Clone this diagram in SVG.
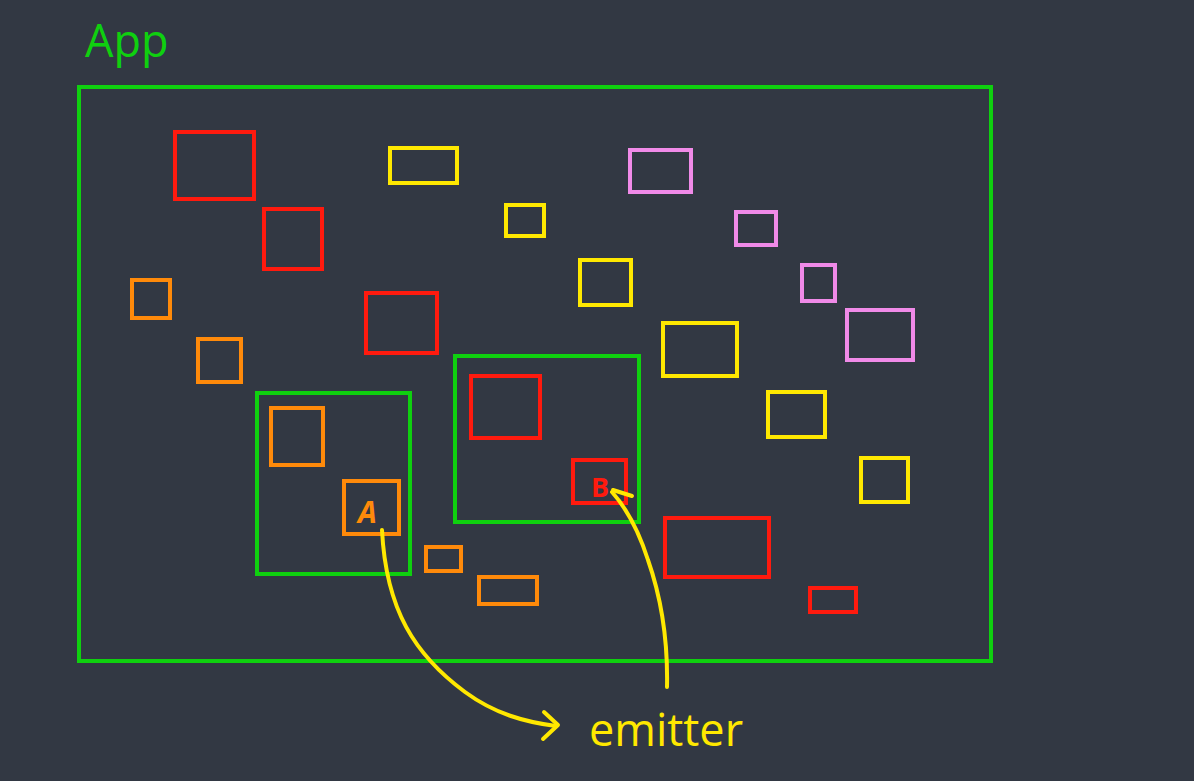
<svg xmlns="http://www.w3.org/2000/svg" width="1194" height="781" viewBox="0 0 1194 781">
<style>
  rect.b{fill:none;stroke-width:4}
  .red{stroke:#ff1a0e}
  .org{stroke:#ff8a0a}
  .yel{stroke:#ffe800}
  .pnk{stroke:#f08ae8}
  .grn{stroke:#0fd00f}
  .lbl{font-family:"Open Sans","Noto Sans",sans-serif}
  .arrow{fill:none;stroke:#ffe800;stroke-width:4;stroke-linecap:round;stroke-linejoin:round}
</style>
<rect width="1194" height="781" fill="#323843"/>
<g id="app">
  <rect class="b grn" x="79" y="87" width="912" height="574"/>
  <text class="lbl" x="85" y="57" font-size="45" fill="#0fd00f">App</text>
</g>
<g id="red-nodes">
  <rect class="b red" x="175" y="132" width="79" height="67"/>
  <rect class="b red" x="264" y="209" width="58" height="60"/>
  <rect class="b red" x="366" y="293" width="71" height="60"/>
  <rect class="b red" x="665" y="518" width="104" height="59"/>
  <rect class="b red" x="810" y="588" width="46" height="24"/>
</g>
<g id="yellow-nodes">
  <rect class="b yel" x="390" y="148" width="67" height="35"/>
  <rect class="b yel" x="506" y="205" width="38" height="31"/>
  <rect class="b yel" x="580" y="260" width="51" height="45"/>
  <rect class="b yel" x="663" y="323" width="74" height="53"/>
  <rect class="b yel" x="768" y="392" width="57" height="45"/>
  <rect class="b yel" x="861" y="458" width="47" height="44"/>
</g>
<g id="pink-nodes">
  <rect class="b pnk" x="630" y="150" width="61" height="42"/>
  <rect class="b pnk" x="736" y="212" width="40" height="33"/>
  <rect class="b pnk" x="802" y="265" width="33" height="36"/>
  <rect class="b pnk" x="847" y="310" width="66" height="50"/>
</g>
<g id="orange-nodes">
  <rect class="b org" x="132" y="280" width="38" height="38"/>
  <rect class="b org" x="198" y="339" width="43" height="43"/>
  <rect class="b org" x="426" y="547" width="35" height="24"/>
  <rect class="b org" x="479" y="577" width="58" height="27"/>
</g>
<g id="group-a">
  <rect class="b grn" x="257" y="393" width="153" height="181"/>
  <rect class="b org" x="271" y="408" width="52" height="57"/>
  <rect class="b org" x="344" y="481" width="55" height="53"/>
  <text class="lbl" x="358" y="523" font-size="30" font-weight="bold" fill="#ff8a0a" font-style="italic">A</text>
</g>
<g id="group-b">
  <rect class="b grn" x="455" y="356" width="184" height="166"/>
  <rect class="b red" x="471" y="376" width="69" height="62"/>
  <rect class="b red" x="573" y="460" width="53" height="43"/>
  <text class="lbl" x="591" y="497" font-size="27" font-weight="bold" fill="#ff1a0e">B</text>
</g>
<g id="connectors">
  <path class="arrow" d="M382,530 C386,610 415,655 465,692 C495,714 525,722 556,726"/>
  <path class="arrow" d="M544,712 L558,725 L543,739"/>
  <path class="arrow" d="M667,687 C668,640 662,600 648,560 C640,535 628,510 612,492"/>
  <path class="arrow" d="M613,490 L632,496"/>
</g>
<g id="emitter">
  <text class="lbl" x="589" y="746" font-size="45" fill="#ffe800">emitter</text>
</g>
</svg>
